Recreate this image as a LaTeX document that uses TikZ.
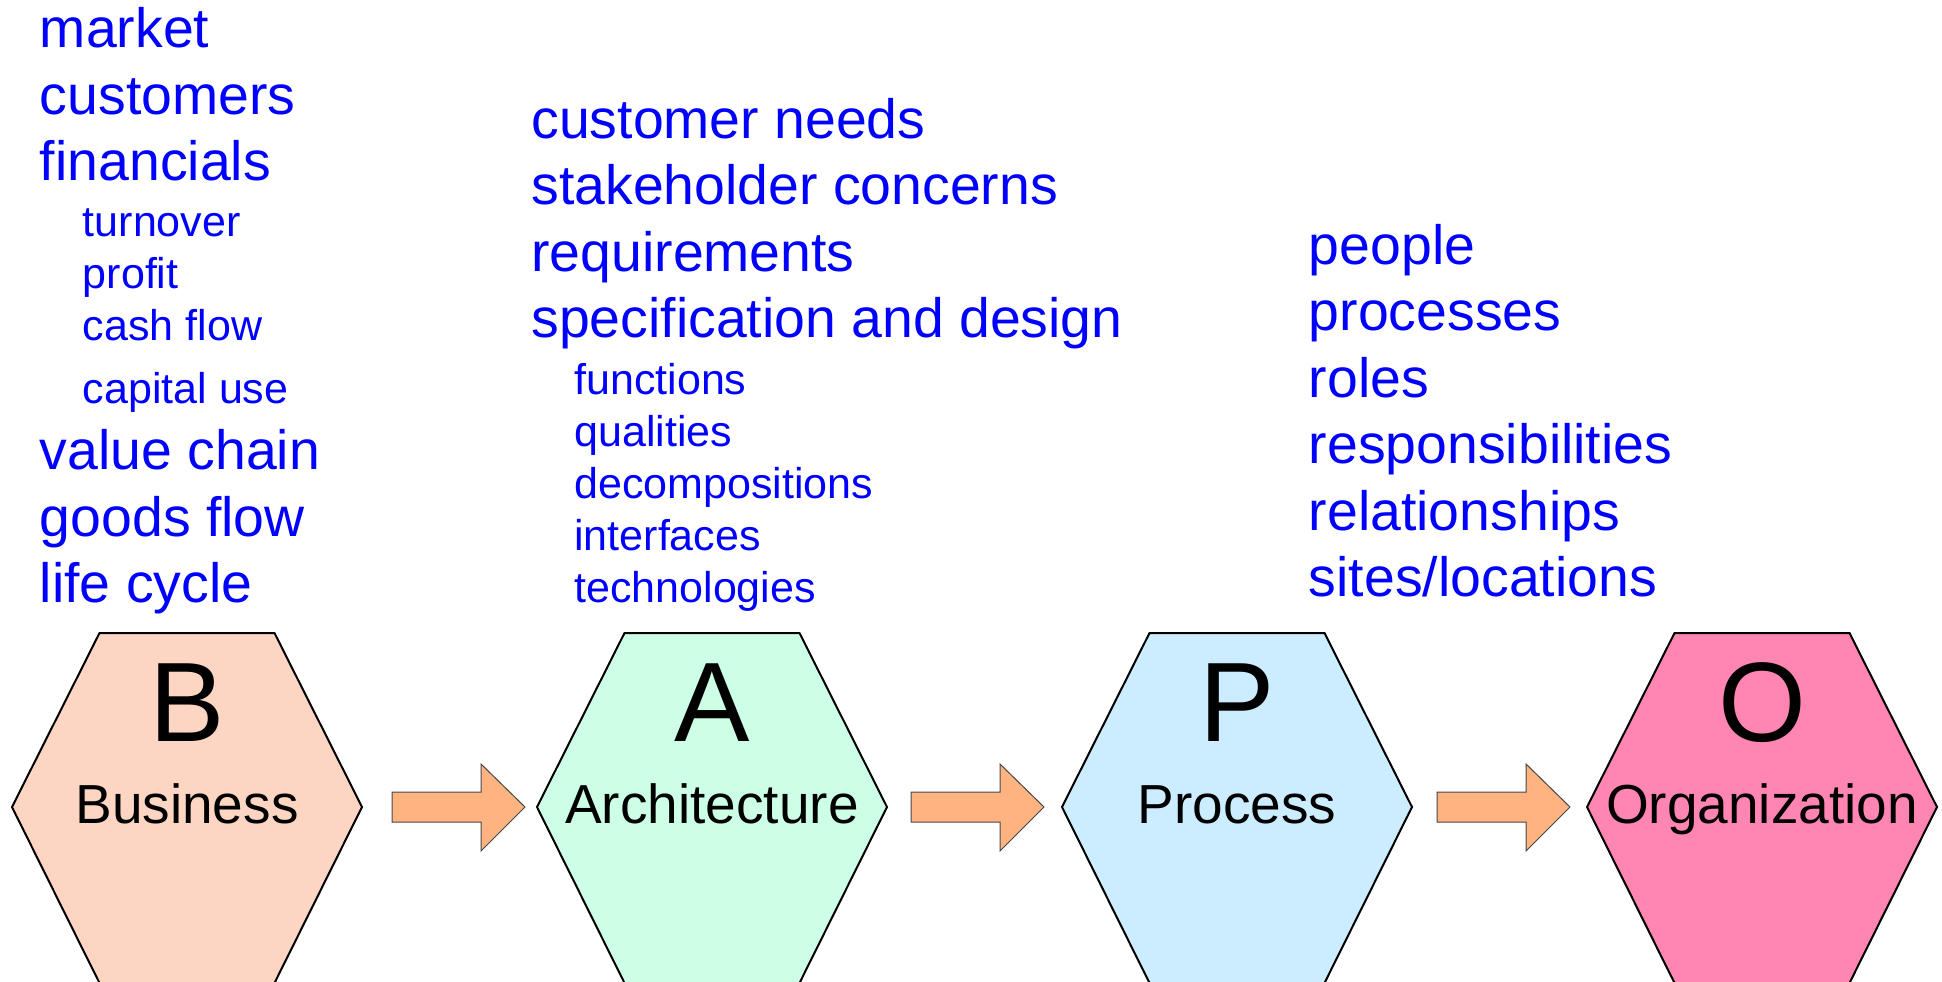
\documentclass[tikz,border=0pt]{standalone}
\usepackage{fontspec}
\setmainfont{Liberation Sans}
\usetikzlibrary{calc}
\definecolor{txtblue}{RGB}{0,0,255}
\definecolor{hexB}{RGB}{253,213,195}
\definecolor{hexA}{RGB}{204,255,230}
\definecolor{hexP}{RGB}{204,236,255}
\definecolor{hexO}{RGB}{255,134,178}
\definecolor{arrfill}{RGB}{255,179,128}
\definecolor{arrline}{RGB}{70,70,70}
\tikzset{
  bigtxt/.style={anchor=base west, text=txtblue, inner sep=0pt, font=\fontsize{27.7}{33}\selectfont},
  smalltxt/.style={anchor=base west, text=txtblue, inner sep=0pt, font=\fontsize{21.5}{26}\selectfont},
  hexletter/.style={anchor=base, inner sep=0pt, font=\fontsize{56.5}{60}\selectfont},
  hexlabel/.style={anchor=base, inner sep=0pt, font=\fontsize{27.5}{33}\selectfont},
  hexline/.style={draw=black, line width=1pt, line join=miter},
  blockarrow/.style={draw=arrline, line width=0.5pt, fill=arrfill, line join=miter},
}
\begin{document}
\begin{tikzpicture}[x=0.5pt, y=-0.5pt]
\useasboundingbox (0,0) rectangle (1942,981);
% hexagons
\foreach \cx/\nm/\col/\ltr/\lab in {187/B/hexB/B/Business, 712/A/hexA/A/Architecture, 1237/P/hexP/P/Process, 1762/O/hexO/O/Organization}{
  \coordinate (\nm) at (\cx,807);
  \draw[hexline, fill=\col] (\cx-175,807) -- (\cx-87.5,633) -- (\cx+87.5,633) -- (\cx+175,807) -- (\cx+87.5,983) -- (\cx-87.5,983) -- cycle;
  \node[hexletter] (\nm-letter) at (\cx,741) {\ltr};
  \node[hexlabel] (\nm-label) at (\cx,823) {\lab};
}
% block arrows (left end of body)
\foreach \ax in {392, 911, 1437}{
  \draw[blockarrow] (\ax,792) -- (\ax+89,792) -- (\ax+89,764) -- (\ax+133,807) -- (\ax+89,851) -- (\ax+89,822) -- (\ax,822) -- cycle;
}
% Business list
\node[bigtxt] (b1) at (39.5,47.5) {market};
\node[bigtxt] (b2) at (39.5,114) {customers};
\node[bigtxt] (b3) at (39.5,180.5) {financials};
\node[smalltxt] (b3a) at (82.5,236.5) {turnover};
\node[smalltxt] (b3b) at (82.5,288.5) {profit};
\node[smalltxt] (b3c) at (82.5,340.5) {cash flow};
\node[smalltxt] (b3d) at (82.5,403) {capital use};
\node[bigtxt] (b4) at (39.5,469.5) {value chain};
\node[bigtxt] (b5) at (39.5,536) {goods flow};
\node[bigtxt] (b6) at (39.5,602) {life cycle};
% Architecture list
\node[bigtxt] (a1) at (531,138.5) {customer needs};
\node[bigtxt] (a2) at (531,204.5) {stakeholder concerns};
\node[bigtxt] (a3) at (531,271) {requirements};
\node[bigtxt] (a4) at (531,337.5) {specification and design};
\node[smalltxt] (a4a) at (574,394.5) {functions};
\node[smalltxt] (a4b) at (574,446.5) {qualities};
\node[smalltxt] (a4c) at (574,498.5) {decompositions};
\node[smalltxt] (a4d) at (574,550.5) {interfaces};
\node[smalltxt] (a4e) at (574,602.5) {technologies};
% Process list
\node[bigtxt] (p1) at (1308.5,264) {people};
\node[bigtxt] (p2) at (1308.5,330.5) {processes};
\node[bigtxt] (p3) at (1308.5,397) {roles};
\node[bigtxt] (p4) at (1308.5,463.5) {responsibilities};
\node[bigtxt] (p5) at (1308.5,530) {relationships};
\node[bigtxt] (p6) at (1308.5,596.5) {sites/locations};
\end{tikzpicture}
\end{document}
